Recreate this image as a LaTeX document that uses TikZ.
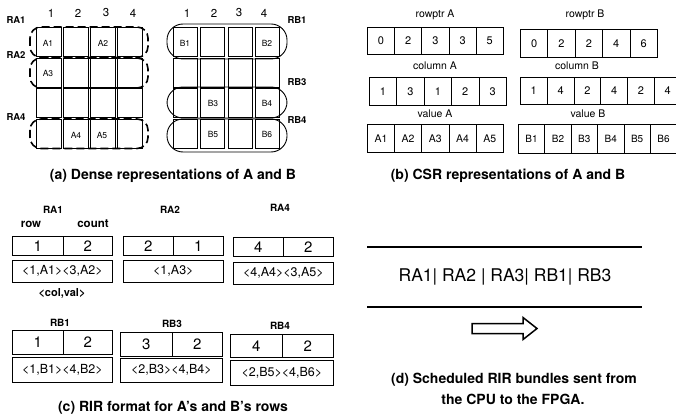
\documentclass[tikz,border=0pt]{standalone}
\usepackage{fontspec}
\setmainfont{TeX Gyre Heros}
\begin{document}
\begin{tikzpicture}[x=1pt,y=-1pt,
  cell/.style={draw,line width=0.7pt,inner sep=0pt,anchor=north west},
  txt/.style={inner sep=0pt,font=\fontsize{#1}{#1}\selectfont},
  btxt/.style={inner sep=0pt,font=\fontsize{#1}{#1}\selectfont\bfseries},
  rowdash/.style={line width=1.6pt,dash pattern=on 8pt off 4pt,rounded corners=11pt},
  rowring/.style={line width=0.9pt,rounded corners=16pt},
  thickline/.style={line width=1.8pt}]
\useasboundingbox (0,0) rectangle (676,414);

% ---------------- (a) dense matrices ----------------
\foreach \r/\y in {1/27,2/58,3/88.5,4/119}{
  \foreach \c/\x in {1/36,2/63,3/90,4/117}{
    \node[cell,minimum width=25.3pt,minimum height=29pt] (ma\r\c) at (\x,\y) {};
  }
  \foreach \c/\x in {1/173,2/200,3/227.5,4/255}{
    \node[cell,minimum width=24pt,minimum height=29pt] (mb\r\c) at (\x,\y) {};
  }
}
\foreach \n/\x in {1/51,2/78,3/106,4/133}{\node[txt=11.5] (ca\n) at (\x,13) {\n};}
\foreach \n/\x in {1/187,2/214,3/239,4/264}{\node[txt=11.5] (cb\n) at (\x,13) {\n};}

\node[txt=8.5] (tA1) at (48,43) {A1};
\node[txt=8.5] (tA2) at (103,43) {A2};
\node[txt=8.5] (tA3) at (48,73) {A3};
\node[txt=8.5] (tA4) at (76,135) {A4};
\node[txt=8.5] (tA5) at (102,135) {A5};
\node[txt=8.5] (tB1) at (185,43) {B1};
\node[txt=8.5] (tB2) at (267,43) {B2};
\node[txt=8.5] (tB3) at (213,103) {B3};
\node[txt=8.5] (tB4) at (267,103) {B4};
\node[txt=8.5] (tB5) at (213,134) {B5};
\node[txt=8.5] (tB6) at (267,134) {B6};

\draw[rowdash] (30,27) rectangle (148,57.5);
\draw[rowdash] (30,58) rectangle (148,88);
\draw[rowdash] (30,119) rectangle (148,148.5);

\draw[rowring] (167,24) rectangle (287,59);
\draw[rowring] (167,87) rectangle (287,118);
\draw[rowring] (167,119) rectangle (287,152);

\node[btxt=9.5] (lRA1) at (16,20) {RA1};
\node[btxt=9.5] (lRA2) at (16,55) {RA2};
\node[btxt=9.5] (lRA4) at (16,117) {RA4};
\node[btxt=9.5] (lRB1) at (297,20) {RB1};
\node[btxt=9.5] (lRB3) at (297,82) {RB3};
\node[btxt=9.5] (lRB4) at (297,120) {RB4};

\node[btxt=14] (capa) at (173,176) {(a) Dense representations of A and B};

% ---------------- (b) CSR ----------------
\node[txt=10.5] (lrpA) at (435,15) {rowptr A};
\foreach \v [count=\i from 0] in {0,2,3,3,5}{
  \node[cell,minimum width=27.2pt,minimum height=27pt] (rpA\i) at ({367+27.2*\i},27) {};
  \node[txt=11] (trpA\i) at (rpA\i) {\v};
}
\node[txt=10.5] (lcoA) at (435,66) {column A};
\foreach \v [count=\i from 0] in {1,3,1,2,3}{
  \node[cell,minimum width=27.4pt,minimum height=28pt] (coA\i) at ({369+27.4*\i},77) {};
  \node[txt=11] (tcoA\i) at (coA\i) {\v};
}
\node[txt=10.5] (lvaA) at (435,114) {value A};
\foreach \v [count=\i from 0] in {A1,A2,A3,A4,A5}{
  \node[cell,minimum width=27.2pt,minimum height=28pt] (vaA\i) at ({367+27.2*\i},124) {};
  \node[txt=10.5] (tvaA\i) at (vaA\i) {\v};
}
\node[txt=10.5] (lrpB) at (585,15) {rowptr B};
\foreach \v [count=\i from 0] in {0,2,2,4,6}{
  \node[cell,minimum width=27.4pt,minimum height=28pt] (rpB\i) at ({520+27.4*\i},29) {};
  \node[txt=11] (trpB\i) at (rpB\i) {\v};
}
\node[txt=10.5] (lcoB) at (577,66) {column B};
\foreach \v [count=\i from 0] in {1,4,2,4,2,4}{
  \node[cell,minimum width=26.8pt,minimum height=27pt] (coB\i) at ({520+26.8*\i},77) {};
  \node[txt=11] (tcoB\i) at (coB\i) {\v};
}
\node[txt=10.5] (lvaB) at (588,114) {value B};
\foreach \v [count=\i from 0] in {B1,B2,B3,B4,B5,B6}{
  \node[cell,minimum width=26.4pt,minimum height=29pt] (vaB\i) at ({518+26.4*\i},124) {};
  \node[txt=10] (tvaB\i) at (vaB\i) {\v};
}
\node[btxt=14] (capb) at (508,176) {(b) CSR representations of A and B};

% ---------------- (c) RIR ----------------
\foreach \nm/\l/\s/\rr/\t/\m/\bt/\bb/\ra/\cb/\lst in {
   ra1/12/63/112/236/255/260/282/1/2/{<1,A1><3,A2>},
   ra2/123/173/223/236/255/260/282/2/1/{<1,A3>},
   ra4/233/283/333/237/256/262/284/4/2/{<4,A4><3,A5>},
   rb1/12/63/112/330/354/357/382/1/2/{<1,B1><4,B2>},
   rb3/120/172/222/332/356/358/382/3/2/{<2,B3><4,B4>},
   rb4/230/282/333/334/357/360/385/4/2/{<2,B5><4,B6>}}{
  \node[cell,minimum width={(\s-\l)*1pt},minimum height={(\m-\t)*1pt}] (\nm r) at (\l,\t) {};
  \node[cell,minimum width={(\rr-\s)*1pt},minimum height={(\m-\t)*1pt}] (\nm c) at (\s,\t) {};
  \node[cell,minimum width={(\rr-\l)*1pt},minimum height={(\bb-\bt)*1pt}] (\nm v) at (\l,\bt) {};
  \node[txt=15] (\nm rt) at (\nm r) {\ra};
  \node[txt=15] (\nm ct) at (\nm c) {\cb};
  \node[txt=12.5] (\nm vt) at (\nm v) {\lst};
}
\node[btxt=10] (lcRA1) at (53,210) {RA1};
\node[btxt=10] (lcRA2) at (170,210) {RA2};
\node[btxt=10] (lcRA4) at (280,208) {RA4};
\node[btxt=11.5] (lrow) at (31,224) {row};
\node[btxt=11.5] (lcount) at (93,224) {count};
\node[btxt=11] (lcolval) at (62,293) {<col,val>};
\node[btxt=10] (lcRB1) at (60,323) {RB1};
\node[btxt=10] (lcRB3) at (172,324) {RB3};
\node[btxt=10] (lcRB4) at (280,326) {RB4};
\node[btxt=14] (capc) at (173,408) {(c) RIR format for A's and B's rows};

% ---------------- (d) schedule ----------------
\coordinate (l1a) at (367,247);
\coordinate (l1b) at (642,247);
\coordinate (l2a) at (367,307);
\coordinate (l2b) at (642,307);
\draw[thickline] (l1a) -- (l1b);
\draw[thickline] (l2a) -- (l2b);
\node[txt=17.5] (sched) at (505,277) {RA1| RA2 | RA3| RB1| RB3};
\draw[line width=1.5pt,line join=miter] (472,323.5) -- (523,323.5) -- (523,317.5) -- (537,328.5) -- (523,339.5) -- (523,333.5) -- (472,333.5) -- cycle;
\node[btxt=14] (capd1) at (514,380) {(d) Scheduled RIR bundles sent from};
\node[btxt=14] (capd2) at (513,399) {the CPU to the FPGA.};
\end{tikzpicture}
\end{document}
